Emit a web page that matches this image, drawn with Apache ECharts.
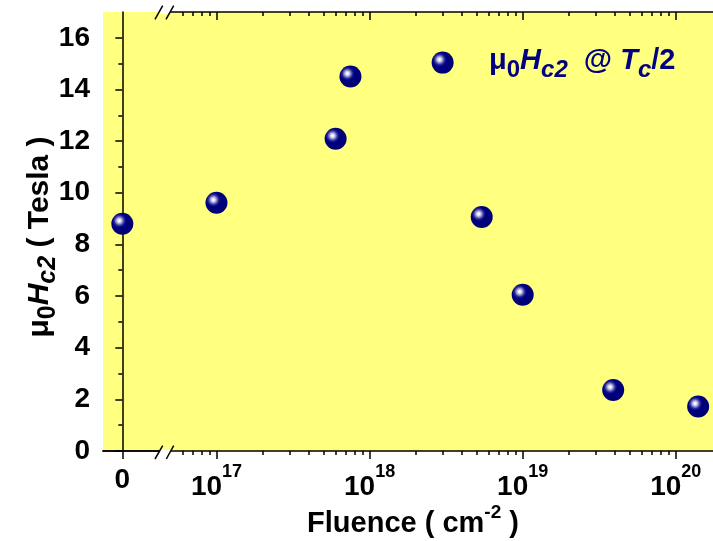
<!DOCTYPE html>
<html>
<head>
<meta charset="utf-8">
<script src="https://cdn.jsdelivr.net/npm/echarts@6/dist/echarts.min.js"></script>
<style>
  html, body { margin: 0; padding: 0; background: #fff; }
  #chart { width: 713px; height: 541px; }
</style>
</head>
<body>
<div id="chart"></div>
<script>
// Upper critical field at Tc/2 versus irradiation fluence (cm^-2)
const fluence = [0, 1e17, 6e17, 7.5e17, 3e18, 5.4e18, 1e19, 3.9e19, 1.4e20];
const hc2 = [8.80, 9.61, 12.09, 14.50, 15.04, 9.06, 6.05, 2.36, 1.72];

// Tick values and labels
const yTicks = [0, 2, 4, 6, 8, 10, 12, 14, 16];
const yMinorTicks = [1, 3, 5, 7, 9, 11, 13, 15];
const xZeroTicks = [0];
const xDecadeTicks = [1e17, 1e18, 1e19, 1e20];
const xDecadeExps = ['17', '18', '19', '20'];

// Axis ranges
const yMin = 0, yMax = 17;
const zeroMin = -1, zeroMax = 2.26;      // unirradiated segment, left of the break
const logMin = 4.68e16, logMax = 1.75e20; // logarithmic segment, right of the break

// Minor log ticks at 2..9 x 10^n (those hidden by the break mark are skipped)
const xMinorTicks = [];
for (let d = 16; d <= 20; d++) {
  for (let m = 2; m <= 9; m++) {
    const v = m * Math.pow(10, d);
    if (v > 5.5e16 && v < logMax) xMinorTicks.push(v);
  }
}

const FONT = '"Liberation Sans", Arial, Helvetica, sans-serif';
const NAVY = '#000080';
const PLOT_BG = '#ffff80';

const zeroPts = [], logPts = [];
fluence.forEach((f, i) => {
  if (f === 0) zeroPts.push([f, hc2[i]]);
  else logPts.push([f, hc2[i]]);
});

const sphere = {
  type: 'radial', x: 0.36, y: 0.36, r: 0.7,
  colorStops: [
    { offset: 0, color: '#ffffff' },
    { offset: 0.07, color: '#f4f4ff' },
    { offset: 0.18, color: '#a8a8dc' },
    { offset: 0.33, color: '#2a2a98' },
    { offset: 0.45, color: '#000080' },
    { offset: 1, color: '#000072' }
  ]
};

const lineStyle = { color: '#000', width: 1.5 };
const labelBase = { color: '#000', fontFamily: FONT, fontWeight: 'bold', fontSize: 28 };

function decadeLabel(v) {
  for (let i = 0; i < xDecadeTicks.length; i++) {
    if (Math.abs(Math.log10(v) - Math.log10(xDecadeTicks[i])) < 1e-6) {
      return '{m|10}{s|' + xDecadeExps[i] + '}';
    }
  }
  return '';
}

function ticksOnly(gridIndex, type, position, min, max, values, len, inside, showLine) {
  return {
    gridIndex, type, position, min, max,
    axisLine: { show: showLine, lineStyle },
    axisTick: { show: true, inside, length: len, customValues: values, lineStyle },
    axisLabel: { show: false },
    splitLine: { show: false },
    minorTick: { show: false }
  };
}

// rich-text styles: main text plus lowered (subscript) pieces
function richSet(color, main, sub, lineH) {
  const base = { fill: color, color: color, fontFamily: FONT, fontWeight: 'bold' };
  return {
    m: Object.assign({}, base, { fontSize: main, lineHeight: main + 2, verticalAlign: 'top' }),
    mi: Object.assign({}, base, { fontSize: main, lineHeight: main + 2, verticalAlign: 'top', fontStyle: 'italic' }),
    s: Object.assign({}, base, { fontSize: sub, lineHeight: lineH, verticalAlign: 'bottom' }),
    si: Object.assign({}, base, { fontSize: sub, lineHeight: lineH, verticalAlign: 'bottom', fontStyle: 'italic' })
  };
}

const chart = echarts.init(document.getElementById('chart'), null, { renderer: 'canvas' });

const option = {
  animation: false,
  backgroundColor: '#ffffff',
  grid: [
    { left: 103, top: 12, width: 63, height: 439, show: true, backgroundColor: PLOT_BG, borderWidth: 0 },
    { left: 166, top: 12, width: 547, height: 439, show: true, backgroundColor: PLOT_BG, borderWidth: 0 }
  ],
  xAxis: [
    {
      gridIndex: 0, type: 'value', position: 'bottom', min: zeroMin, max: zeroMax,
      axisLine: { show: true, lineStyle },
      axisTick: { show: true, length: 8, customValues: xZeroTicks, lineStyle },
      axisLabel: Object.assign({ customValues: xZeroTicks, margin: 15 }, labelBase),
      splitLine: { show: false }
    },
    ticksOnly(0, 'value', 'top', zeroMin, zeroMax, xZeroTicks, 8, true, true),
    {
      gridIndex: 1, type: 'log', logBase: 10, position: 'bottom', min: logMin, max: logMax,
      axisLine: { show: true, lineStyle },
      axisTick: { show: true, length: 8, customValues: xDecadeTicks, lineStyle },
      axisLabel: {
        customValues: xDecadeTicks, margin: 12.5, formatter: decadeLabel,
        rich: {
          m: { color: '#000', fontFamily: FONT, fontWeight: 'bold', fontSize: 28, lineHeight: 37.5, verticalAlign: 'bottom' },
          s: { color: '#000', fontFamily: FONT, fontWeight: 'bold', fontSize: 18, lineHeight: 18, verticalAlign: 'top' }
        }
      },
      splitLine: { show: false },
      minorTick: { show: false }
    },
    ticksOnly(1, 'log', 'bottom', logMin, logMax, xMinorTicks, 4, false, false),
    ticksOnly(1, 'log', 'top', logMin, logMax, xDecadeTicks, 8, true, true),
    ticksOnly(1, 'log', 'top', logMin, logMax, xMinorTicks, 4, true, false)
  ],
  yAxis: [
    {
      gridIndex: 0, type: 'value', position: 'left', min: yMin, max: yMax,
      axisLine: { show: true, lineStyle },
      axisTick: { show: true, length: 7, customValues: yTicks, lineStyle },
      axisLabel: Object.assign({ customValues: yTicks, margin: 13 }, labelBase),
      splitLine: { show: false }
    },
    ticksOnly(0, 'value', 'left', yMin, yMax, yMinorTicks, 4, false, false),
    { gridIndex: 1, type: 'value', min: yMin, max: yMax, show: false, splitLine: { show: false } }
  ],
  series: [
    {
      type: 'scatter', xAxisIndex: 0, yAxisIndex: 0, data: zeroPts,
      symbol: 'circle', symbolSize: 22, clip: false, silent: true,
      itemStyle: { color: sphere, opacity: 1 }
    },
    {
      type: 'scatter', xAxisIndex: 2, yAxisIndex: 2, data: logPts,
      symbol: 'circle', symbolSize: 22, clip: false, silent: true,
      itemStyle: { color: sphere, opacity: 1 }
    }
  ],
  graphic: [
    // axis break marks on the top and bottom axes
    { type: 'polygon', shape: { points: [[158.3, 14], [160.4, 10.6], [171.4, 10.6], [169.3, 14]] }, style: { fill: '#ffffff' }, z: 100 },
    { type: 'line', shape: { x1: 155, y1: 19.3, x2: 162.7, y2: 5.7 }, style: { stroke: '#000', lineWidth: 1.5 }, z: 101 },
    { type: 'line', shape: { x1: 166, y1: 19.3, x2: 173.7, y2: 5.7 }, style: { stroke: '#000', lineWidth: 1.5 }, z: 101 },
    { type: 'polygon', shape: { points: [[158.3, 453.5], [160.4, 449.5], [171.4, 449.5], [169.3, 453.5]] }, style: { fill: '#ffffff' }, z: 100 },
    { type: 'line', shape: { x1: 155, y1: 459, x2: 162.7, y2: 445.7 }, style: { stroke: '#000', lineWidth: 1.5 }, z: 101 },
    { type: 'line', shape: { x1: 166.3, y1: 459, x2: 173.7, y2: 445.7 }, style: { stroke: '#000', lineWidth: 1.5 }, z: 101 },
    // x-axis title
    {
      type: 'text', x: 413, y: 503.5, z: 102,
      style: {
        text: '{m|Fluence ( cm}{s|-2}{m| )}',
        align: 'center', verticalAlign: 'top',
        rich: {
          m: { fill: '#000', fontFamily: FONT, fontWeight: 'bold', fontSize: 29, lineHeight: 35, verticalAlign: 'bottom' },
          s: { fill: '#000', fontFamily: FONT, fontWeight: 'bold', fontSize: 19, lineHeight: 19, verticalAlign: 'top' }
        }
      }
    },
    // y-axis title
    {
      type: 'text', x: 42.7, y: 237, rotation: Math.PI / 2, z: 102,
      style: {
        text: '{m|\u03bc}{s|0}{mi|H}{si|c2}{m| ( Tesla )}',
        align: 'center', verticalAlign: 'middle',
        rich: richSet('#000', 30, 25, 36.2)
      }
    },
    // in-plot annotation
    {
      type: 'text', x: 489, y: 46.2, z: 102,
      style: {
        text: '{m|\u03bc}{s|0}{mi|H}{si|c2}{m|  @ }{mi|T}{si|c}{m|/2}',
        align: 'left', verticalAlign: 'top',
        rich: richSet(NAVY, 29, 24, 36.2)
      }
    }
  ]
};

chart.setOption(option);
</script>
</body>
</html>
